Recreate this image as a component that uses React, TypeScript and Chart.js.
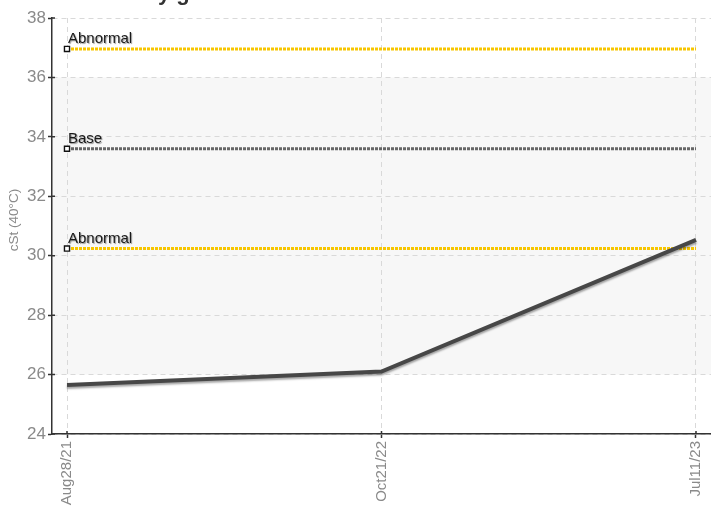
import React, { useEffect, useRef } from "react";
import { Chart, registerables } from "chart.js";

Chart.register(...registerables);

// ---- data ----
const categories = ["Aug28/21", "Oct21/22", "Jul11/23"];
const viscosity = [25.65, 26.1, 30.53];
const upperAbnormal = [36.96, 36.96, 36.96];
const baseLine = [33.6, 33.6, 33.6];
const lowerAbnormal = [30.24, 30.24, 30.24];
const refLabels = ["Abnormal", "Base", "Abnormal"];
const normalBand = [26, 36];
const yMin = 24;
const yMax = 38;
const yStep = 2;
const titleText = "Viscosity grade";
const yTitle = "cSt (40°C)";
const yTitleCenterValue = 31.2;

const FONT = "'Liberation Sans', Arial, sans-serif";
const NARROW = "'Liberation Sans Narrow', 'Liberation Sans', Arial, sans-serif";

const toPoints = (arr: number[]) => arr.map((v, i) => ({ x: i, y: v }));

export default function App() {
  const ref = useRef<HTMLCanvasElement | null>(null);

  useEffect(() => {
    if (!ref.current) return;

    const bandPlugin = {
      id: "bandPlugin",
      beforeDraw(chart: any) {
        const { ctx, chartArea, scales } = chart;
        const yTop = scales.y.getPixelForValue(normalBand[1]);
        const yBot = scales.y.getPixelForValue(normalBand[0]);
        ctx.save();
        ctx.fillStyle = "#f7f7f7";
        ctx.fillRect(chartArea.left, yTop, chartArea.right - chartArea.left, yBot - yTop);
        ctx.restore();
      },
    };

    const shadowPlugin = {
      id: "shadowPlugin",
      beforeDatasetDraw(chart: any, args: any) {
        if (args.index !== 0) return;
        const ctx = chart.ctx;
        ctx.save();
        ctx.shadowColor = "rgba(0,0,0,0.35)";
        ctx.shadowOffsetX = 0;
        ctx.shadowOffsetY = 2;
        ctx.shadowBlur = 2;
      },
      afterDatasetDraw(chart: any, args: any) {
        if (args.index !== 0) return;
        chart.ctx.restore();
      },
    };

    const labelPlugin = {
      id: "labelPlugin",
      afterDatasetsDraw(chart: any) {
        const ctx = chart.ctx;
        ctx.save();
        ctx.font = `15px ${FONT}`;
        ctx.fillStyle = "#1a1a1a";
        ctx.textAlign = "left";
        ctx.textBaseline = "alphabetic";
        ctx.shadowColor = "rgba(0,0,0,0.4)";
        ctx.shadowOffsetX = 1;
        ctx.shadowOffsetY = 1;
        ctx.shadowBlur = 1;
        refLabels.forEach((label, k) => {
          const meta = chart.getDatasetMeta(k + 1);
          const pt = meta.data[0];
          if (!pt) return;
          ctx.fillText(label, pt.x + 1, pt.y - 6);
        });
        ctx.restore();
      },
    };

    const axisPlugin = {
      id: "axisPlugin",
      afterDraw(chart: any) {
        const { ctx, chartArea, scales } = chart;
        ctx.save();
        // title (mostly above the visible area)
        ctx.font = `bold 22px ${FONT}`;
        ctx.fillStyle = "#333";
        ctx.textAlign = "left";
        ctx.textBaseline = "alphabetic";
        const pre = ctx.measureText("Viscosit").width;
        ctx.fillText(titleText, 158 - pre, 0);
        // y axis title
        ctx.translate(14, scales.y.getPixelForValue(yTitleCenterValue));
        ctx.rotate(-Math.PI / 2);
        ctx.font = `13.5px ${NARROW}`;
        ctx.fillStyle = "#8a8a8a";
        ctx.textAlign = "center";
        ctx.textBaseline = "middle";
        ctx.fillText(yTitle, 0, 0);
        ctx.restore();
        // inner part of tick marks (crossing the axis)
        ctx.save();
        ctx.strokeStyle = "#333";
        ctx.lineWidth = 1.5;
        ctx.beginPath();
        scales.y.ticks.forEach((t: any) => {
          const y = scales.y.getPixelForValue(t.value);
          ctx.moveTo(chartArea.left, y);
          ctx.lineTo(chartArea.left + 3, y);
        });
        scales.x.ticks.forEach((t: any) => {
          const x = scales.x.getPixelForValue(t.value);
          ctx.moveTo(x, chartArea.bottom);
          ctx.lineTo(x, chartArea.bottom - 3);
        });
        ctx.stroke();
        ctx.restore();
      },
    };

    const refDataset = (label: string, data: number[], color: string) => ({
      label,
      data: toPoints(data),
      borderColor: color,
      backgroundColor: "#ffffff",
      borderWidth: 3,
      borderDash: [3, 1],
      borderCapStyle: "butt",
      pointStyle: "rect",
      pointRadius: data.map((_, i) => (i === 0 ? 3.6 : 0)),
      pointHoverRadius: 0,
      pointBorderColor: "#111",
      pointBackgroundColor: "#ffffff",
      pointBorderWidth: 1.4,
      fill: false,
      tension: 0,
    });

    const chart = new Chart(ref.current, {
      type: "line",
      data: {
        datasets: [
          {
            label: "Viscosity",
            data: toPoints(viscosity),
            borderColor: "#474747",
            borderWidth: 4,
            pointRadius: 0,
            pointHoverRadius: 0,
            fill: false,
            tension: 0,
          } as any,
          refDataset("Abnormal high", upperAbnormal, "#f7c600"),
          refDataset("Base", baseLine, "#666666"),
          refDataset("Abnormal low", lowerAbnormal, "#f7c600"),
        ],
      },
      options: {
        animation: false,
        responsive: false,
        maintainAspectRatio: false,
        layout: { autoPadding: false, padding: { top: 18, left: 0, right: 0, bottom: 0 } },
        plugins: {
          legend: { display: false },
          tooltip: { enabled: false },
          title: { display: false },
        },
        scales: {
          x: {
            type: "linear",
            min: -0.0477,
            max: categories.length - 1 + 0.0477,
            afterBuildTicks: (scale: any) => {
              scale.ticks = categories.map((_, i) => ({ value: i }));
            },
            afterFit: (scale: any) => {
              scale.height = 73;
              scale.paddingLeft = 0;
              scale.paddingRight = 0;
            },
            ticks: {
              autoSkip: false,
              minRotation: 90,
              maxRotation: 90,
              padding: 3,
              color: "#8a8a8a",
              font: { family: NARROW, size: 15, lineHeight: 0.75 },
              callback: (v: any) => categories[Math.round(Number(v))] ?? "",
            },
            grid: {
              color: "#d9d9d9",
              lineWidth: 1,
              tickColor: "#333",
              tickLength: 4,
              tickWidth: 1.5,
            },
            border: { color: "#333", width: 1.5, dash: [5, 4] },
          },
          y: {
            type: "linear",
            min: yMin,
            max: yMax,
            afterFit: (scale: any) => {
              scale.width = 52;
            },
            ticks: {
              stepSize: yStep,
              padding: 2,
              color: "#8a8a8a",
              font: { family: NARROW, size: 17 },
            },
            grid: {
              color: "#d9d9d9",
              lineWidth: 1,
              tickColor: "#333",
              tickLength: 4,
              tickWidth: 1.5,
            },
            border: { color: "#333", width: 1.5, dash: [5, 4] },
          },
        },
      } as any,
      plugins: [bandPlugin, shadowPlugin, labelPlugin, axisPlugin],
    });

    return () => chart.destroy();
  }, []);

  return (
    <div style={{ position: "absolute", left: 0, top: 0, width: 711, height: 507 }}>
      <canvas ref={ref} width={711} height={507} style={{ width: 711, height: 507 }} />
    </div>
  );
}
